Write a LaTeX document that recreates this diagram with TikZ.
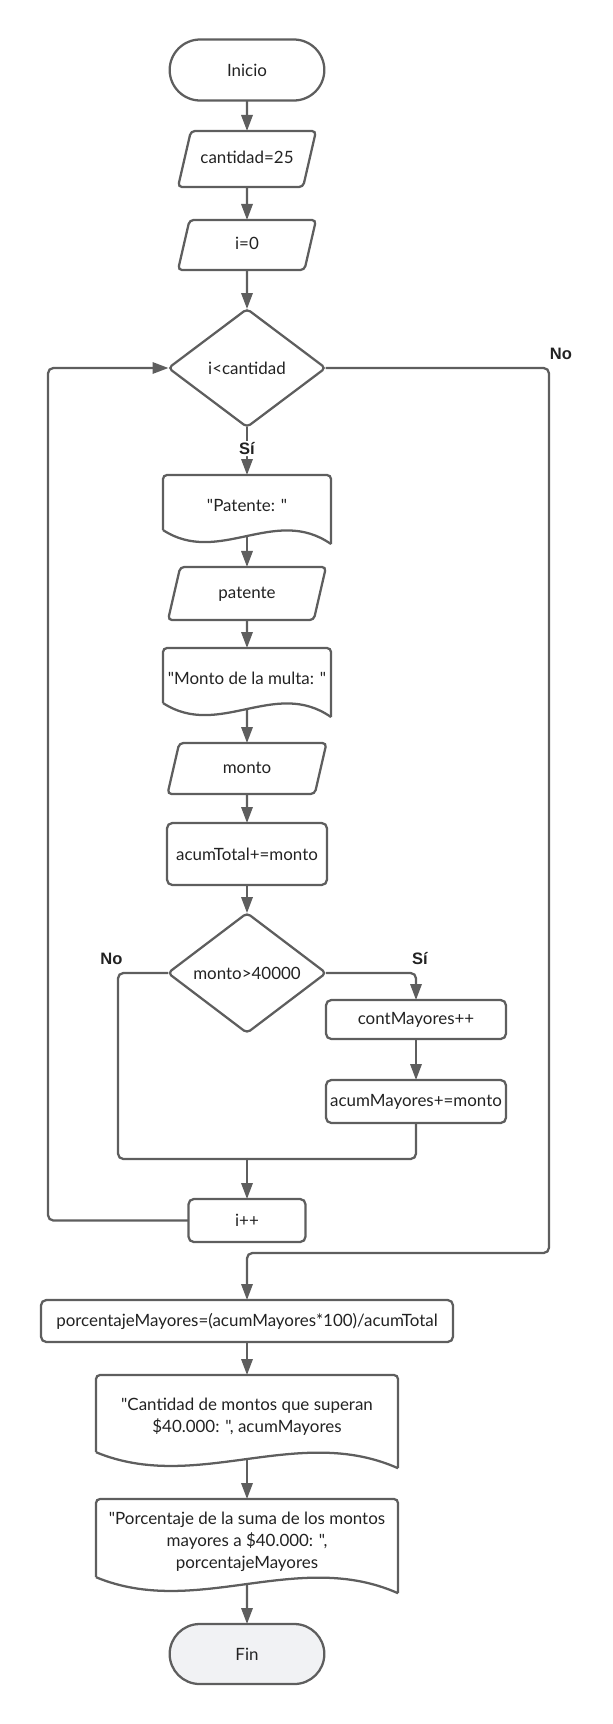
\documentclass[tikz,border=0pt]{standalone}
\usepackage{fontspec}
\setmainfont{Lato}[Ligatures=TeXOff]
\newfontfamily\lblfont{Liberation Sans}
\usetikzlibrary{shapes.geometric,shapes.misc,arrows.meta,calc}
\definecolor{linegray}{HTML}{5E5E5E}
\definecolor{fingray}{HTML}{F1F2F4}
\definecolor{txtcol}{HTML}{222222}

% outline of a document box: node name, wave depth (px)
\newcommand{\docoutline}[2]{%
  \draw[shapeline,rounded corners=3pt] ($(#1.south west)+(0,{-0.425*#2})$) -- (#1.north west)
    -- (#1.north east) -- ($(#1.south east)+(0,{0.575*#2})$);
  \draw[shapeline] ($(#1.south west)+(0,{-0.425*#2})$)
    .. controls ($(#1.south west)!0.333!(#1.south east)+(0,{2.175*#2})$)
    and ($(#1.south west)!0.667!(#1.south east)+(0,{-2.225*#2})$)
    .. ($(#1.south east)+(0,{0.575*#2})$);
}

\begin{document}
\begin{tikzpicture}[x=0.75pt,y=-0.75pt,
    every node/.style={font=\fontsize{12.7}{16.5}\selectfont,text=txtcol,inner sep=2pt,outer sep=0pt,align=center},
    shapeline/.style={draw=linegray,line width=1.7pt},
    terminal/.style={rounded rectangle,shapeline},
    proc/.style={rectangle,shapeline,rounded corners=4pt},
    io/.style={trapezium,trapezium left angle=77,trapezium right angle=103,
      trapezium stretches body,text height=9.5pt,text depth=2.5pt,inner ysep=#1,
      shapeline,rounded corners=3pt},
    decision/.style={diamond,shapeline,rounded corners=3pt,inner sep=0pt},
    docbox/.style={rectangle},
    flow/.style={draw=linegray,line width=1.7pt,rounded corners=4pt,
      -{Triangle[length=12pt,width=8.5pt]}},
    link/.style={draw=linegray,line width=1.7pt,rounded corners=4pt},
    lbl/.style={font=\lblfont\bfseries\fontsize{12.4}{14}\selectfont,text=txtcol,inner sep=1pt}]
  \useasboundingbox (0,0) rectangle (613,1724);

  % main column
  \node[terminal,minimum width=120pt,minimum height=45.75pt] (inicio) at (247,70) {Inicio};
  \node[io=15pt,minimum width=103.5pt] (cantidad) at (247,159) {cantidad=25};
  \node[io=12.75pt,minimum width=103.5pt] (izero) at (247,245) {i=0};
  \node[decision,minimum width=117.75pt,minimum height=88.5pt] (cond1) at (247,368) {i<cantidad};
  \node[docbox,minimum width=126pt,minimum height=45.75pt] (msgpat) at (247,505.5) {"Patente: "};
  \node[io=13.9pt,minimum width=118.5pt] (patente) at (247,593.5) {patente};
  \node[docbox,minimum width=126pt,minimum height=45.75pt] (msgmonto) at (247,678.5) {"Monto de la multa: "};
  \node[io=13.1pt,minimum width=119.25pt] (monto) at (247,768.5) {monto};
  \node[proc,minimum width=120pt,minimum height=46.5pt] (acumtot) at (247,854) {acumTotal+=monto};
  \node[decision,minimum width=118.5pt,minimum height=87.75pt] (cond2) at (247,973) {monto>40000};
  \node[proc,minimum width=135pt,minimum height=29.25pt] (contmay) at (416,1019.5) {contMayores++};
  \node[proc,minimum width=135pt,minimum height=32.25pt] (acummay) at (416,1101.5) {acumMayores+=monto};
  \node[proc,minimum width=87.75pt,minimum height=32.25pt] (iinc) at (247,1220.5) {i++};
  \node[proc,minimum width=309pt,minimum height=31.5pt] (porc) at (247,1321) {porcentajeMayores=(acumMayores*100)/acumTotal};
  \node[docbox,minimum width=226.5pt,minimum height=63pt] (msgcant) at (247,1417)
    {"Cantidad de montos que superan\\\$40.000: ", acumMayores};
  \node[docbox,minimum width=226.5pt,minimum height=63.75pt] (msgporc) at (247,1541.5)
    {"Porcentaje de la suma de los montos\\mayores a \$40.000: ",\\porcentajeMayores};
  \node[terminal,fill=fingray,minimum width=120pt,minimum height=45pt] (fin) at (247,1654) {Fin};

  \docoutline{msgpat}{14}
  \docoutline{msgmonto}{14}
  \docoutline{msgcant}{16}
  \docoutline{msgporc}{16}

  \coordinate (exitR) at (549,1253);
  \coordinate (exitM) at (247,1253);
  \coordinate (noL) at (118,1159);
  \coordinate (join) at (247,1159);
  \coordinate (loopL) at (48,1220.5);

  \draw[flow] (inicio) -- (cantidad);
  \draw[flow] (cantidad) -- (izero);
  \draw[flow] (izero) -- (cond1);
  \draw[flow] (cond1) -- node[lbl,fill=white,pos=0.45] (si1) {Sí} (msgpat);
  \draw[flow] (msgpat) -- (patente);
  \draw[flow] (patente) -- (msgmonto);
  \draw[flow] (msgmonto) -- (monto);
  \draw[flow] (monto) -- (acumtot);
  \draw[flow] (acumtot) -- (cond2);
  \draw[flow] (cond2.east) -| node[lbl,pos=0.5,above=5pt,xshift=3pt] (si2) {Sí} (contmay.north);
  \draw[flow] (contmay) -- (acummay);
  \draw[link] (cond2.west) -| node[lbl,pos=0.5,above=5pt,xshift=-5pt] (no2) {No} (noL) -- (join);
  \draw[link] (acummay.south) |- (join);
  \draw[flow] (join) -- (iinc.north);
  \draw[flow] (iinc.west) -- (loopL) |- (cond1.west);
  \draw[flow] (cond1.east) -| node[lbl,pos=0.5,above=5pt,xshift=9pt] (no1) {No} (exitR) -- (exitM) -- (porc.north);
  \draw[flow] (porc) -- (msgcant);
  \draw[flow] (msgcant) -- (msgporc);
  \draw[flow] (msgporc) -- (fin);
\end{tikzpicture}
\end{document}
